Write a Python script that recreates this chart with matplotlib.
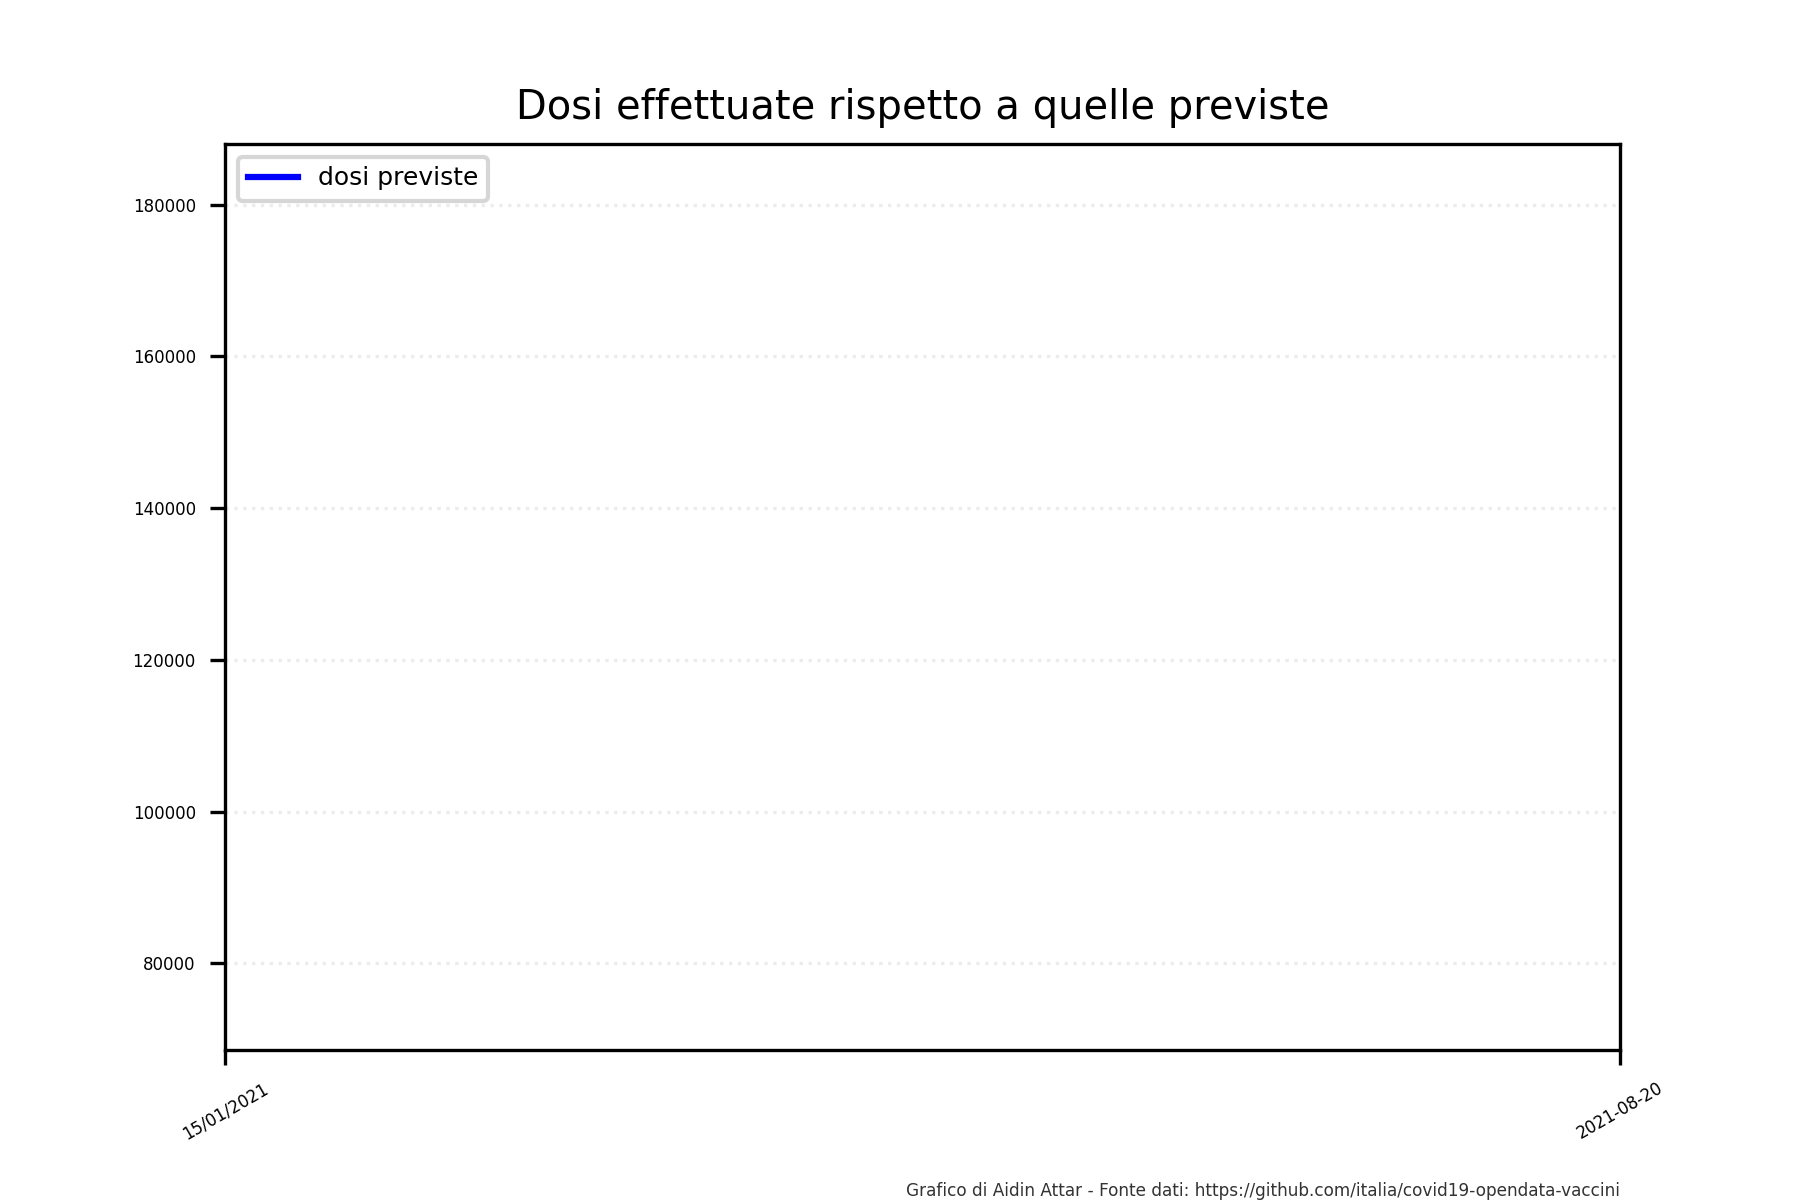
import datetime as dt
import matplotlib
matplotlib.use("Agg")
import matplotlib.pyplot as plt
import matplotlib.dates as mdates

# data (the planned doses line is empty in the chart)
date_previste = []
dosi_previste = []

x_start = dt.date(2021, 1, 15)
x_end = dt.date(2021, 8, 20)
x_labels = ["15/01/2021", "2021-08-20"]

y_min, y_max = 68600, 188000
y_ticks = [80000, 100000, 120000, 140000, 160000, 180000]

fig, ax = plt.subplots(figsize=(6, 4), dpi=300)
fig.subplots_adjust(left=0.125, right=0.9, top=0.88, bottom=0.125)

ax.plot(date_previste, dosi_previste, color="blue", linewidth=1.5, label="dosi previste")

ax.set_xlim(mdates.date2num(x_start), mdates.date2num(x_end))
ax.set_xticks([mdates.date2num(x_start), mdates.date2num(x_end)])
ax.set_xticklabels(x_labels, rotation=30, ha="center", fontsize=4)

ax.set_ylim(y_min, y_max)
ax.set_yticks(y_ticks)
ax.set_yticklabels([str(v) for v in y_ticks], fontsize=4)

ax.grid(axis="y", linestyle=":", color="#ececec", linewidth=0.8)

ax.set_title("Dosi effettuate rispetto a quelle previste", fontsize=9.6)
ax.legend(loc="upper left", fontsize=6)

fig.text(0.9, 0.0, "Grafico di Aidin Attar - Fonte dati: https://github.com/italia/covid19-opendata-vaccini",
         ha="right", va="bottom", fontsize=4.05, color="#333333")

fig.savefig("out.png", dpi=300)
